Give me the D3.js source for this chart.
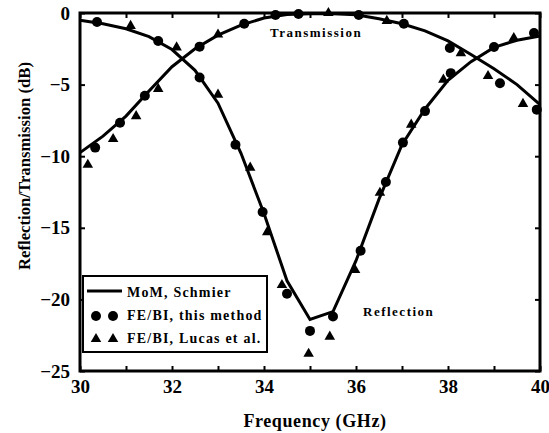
<!DOCTYPE html>
<html>
<head>
<meta charset="utf-8">
<script src="https://cdn.jsdelivr.net/npm/d3@7"></script>
<style>
  body { margin: 0; background: #fff; }
  text { font-family: "Liberation Serif", "Times New Roman", serif; font-weight: bold; fill: #000; }
</style>
</head>
<body>
<script>
// MoM (Schmier) curves, sampled every 0.5 GHz
const momFreq = [30, 30.5, 31, 31.5, 32, 32.5, 33, 33.5, 34, 34.5, 35, 35.5, 36, 36.5, 37, 37.5, 38, 38.5, 39, 39.5, 40]
const momRefl = [-0.5, -0.75, -1.1, -1.65, -2.55, -4.0, -6.3, -9.8, -14.0, -18.7, -21.4, -20.85, -17.3, -13.0, -9.2, -6.7, -4.7, -3.4, -2.4, -1.9, -1.6]
const momTrans = [-9.75, -8.6, -7.2, -5.45, -3.75, -2.5, -1.55, -0.85, -0.35, -0.1, -0.05, -0.05, -0.12, -0.4, -0.75, -1.25, -1.95, -2.9, -3.9, -5.0, -6.4]

// FE/BI, this method (circles)
const feReflFreq = [30.37, 31.7, 32.6, 33.38, 33.97, 34.5, 35.0, 35.5, 36.1, 36.65, 37.02, 37.5, 38.06, 39.0, 39.87]
const feReflVal = [-0.63, -1.95, -4.5, -9.2, -13.9, -19.6, -22.2, -21.2, -16.6, -11.8, -9.05, -6.85, -4.2, -2.37, -1.4]
const feTransFreq = [30.33, 30.87, 31.41, 32.6, 33.57, 34.25, 34.75, 36.06, 37.04, 38.04, 39.13, 39.93]
const feTransVal = [-9.4, -7.66, -5.78, -2.35, -0.75, -0.14, -0.07, -0.14, -0.75, -2.45, -4.9, -6.75]

// FE/BI, Lucas et al. (triangles)
const luReflFreq = [31.1, 32.1, 33.0, 33.7, 34.07, 34.39, 34.97, 35.43, 35.98, 36.52, 37.2, 37.9, 39.43]
const luReflVal = [-0.9, -2.4, -5.7, -10.8, -15.3, -19.0, -23.8, -22.6, -17.95, -12.55, -7.8, -4.65, -1.75]
const luTransFreq = [30.17, 30.72, 31.22, 31.7, 33.0, 35.4, 36.67, 38.28, 38.87, 39.63]
const luTransVal = [-10.6, -8.8, -7.2, -5.3, -1.5, 0.0, -0.55, -2.8, -4.4, -6.35]

const xTicks = [30, 31, 32, 33, 34, 35, 36, 37, 38, 39, 40]
const xLabels = [30, 32, 34, 36, 38, 40]
const yTicks = [0, -5, -10, -15, -20, -25]

const width = 549
const height = 433
const svg = d3.select('body').append('svg')
  .attr('width', width)
  .attr('height', height)

const x = d3.scaleLinear().domain([30, 40]).range([80, 540])
const y = d3.scaleLinear().domain([0, -25]).range([13, 371])

function pts(fs, vs) {
  return fs.map((f, i) => ({ f: f, v: vs[i] }))
}

// axes (ticks inside the frame)
svg.append('g').attr('transform', `translate(0,${y(-25)})`)
  .call(d3.axisBottom(x).tickValues(xTicks).tickSizeInner(-5).tickSizeOuter(0).tickPadding(9)
    .tickFormat(d => xLabels.includes(d) ? d : ''))
svg.append('g').attr('transform', `translate(0,${y(0)})`)
  .call(d3.axisTop(x).tickValues(xTicks).tickSizeInner(-5).tickSizeOuter(0).tickFormat(''))
svg.append('g').attr('transform', `translate(${x(30)},0)`)
  .call(d3.axisLeft(y).tickValues(yTicks).tickSizeInner(-5).tickSizeOuter(0).tickPadding(10))
svg.append('g').attr('transform', `translate(${x(40)},0)`)
  .call(d3.axisRight(y).tickValues(yTicks).tickSizeInner(-5).tickSizeOuter(0).tickFormat(''))

svg.selectAll('.domain').remove()
svg.selectAll('.tick line').attr('stroke', '#000').attr('stroke-width', 2)
svg.selectAll('.tick text')
  .style('font-size', '19px')
  .style('font-family', '"Liberation Serif", serif')
  .style('font-weight', 'bold')

// frame
svg.append('rect')
  .attr('x', x(30)).attr('y', y(0))
  .attr('width', x(40) - x(30)).attr('height', y(-25) - y(0))
  .attr('fill', 'none').attr('stroke', '#000').attr('stroke-width', 3)

// MoM lines
const line = d3.line().x(d => x(d.f)).y(d => y(d.v))
svg.append('path').attr('d', line(pts(momFreq, momRefl)))
  .attr('fill', 'none').attr('stroke', '#000').attr('stroke-width', 3)
svg.append('path').attr('d', line(pts(momFreq, momTrans)))
  .attr('fill', 'none').attr('stroke', '#000').attr('stroke-width', 3)

// circles
svg.selectAll('circle.fe')
  .data(pts(feReflFreq, feReflVal).concat(pts(feTransFreq, feTransVal)))
  .join('circle')
  .attr('class', 'fe')
  .attr('cx', d => x(d.f)).attr('cy', d => y(d.v))
  .attr('r', 5).attr('fill', '#000')

// triangles
const tri = d3.symbol().type(d3.symbolTriangle).size(48)
svg.selectAll('path.lu')
  .data(pts(luReflFreq, luReflVal).concat(pts(luTransFreq, luTransVal)))
  .join('path')
  .attr('class', 'lu')
  .attr('transform', d => `translate(${x(d.f)},${y(d.v)})`)
  .attr('d', tri).attr('fill', '#000')

// curve labels
svg.append('text').attr('x', 270).attr('y', 37)
  .style('font-size', '13px').style('letter-spacing', '1.5px')
  .text('Transmission')
svg.append('text').attr('x', 363).attr('y', 316)
  .style('font-size', '13px').style('letter-spacing', '1.5px')
  .text('Reflection')

// axis titles
svg.append('text')
  .attr('x', 315).attr('y', 427)
  .attr('text-anchor', 'middle')
  .style('font-size', '18px').style('letter-spacing', '0.6px')
  .text('Frequency (GHz)')
svg.append('text')
  .attr('transform', 'translate(30,166) rotate(-90)')
  .attr('text-anchor', 'middle')
  .attr('textLength', 208).attr('lengthAdjust', 'spacingAndGlyphs')
  .style('font-size', '17px')
  .text('Reflection/Transmission (dB)')

// legend
const lg = svg.append('g')
lg.append('rect').attr('x', 83).attr('y', 276).attr('width', 184).attr('height', 76)
  .attr('fill', '#fff').attr('stroke', '#000').attr('stroke-width', 2)
lg.append('line').attr('x1', 87).attr('x2', 122).attr('y1', 291).attr('y2', 291)
  .attr('stroke', '#000').attr('stroke-width', 3)
lg.selectAll('circle').data([96, 113]).join('circle')
  .attr('cx', d => d).attr('cy', 316).attr('r', 5).attr('fill', '#000')
lg.selectAll('path').data([96, 113]).join('path')
  .attr('transform', d => `translate(${d},339)`)
  .attr('d', tri).attr('fill', '#000')
const legendText = ['MoM, Schmier', 'FE/BI, this method', 'FE/BI, Lucas et al.']
lg.selectAll('text').data(legendText).join('text')
  .attr('x', 127).attr('y', (d, i) => 297 + i * 23)
  .style('font-size', '14px').style('letter-spacing', '1.2px')
  .text(d => d)
</script>
</body>
</html>
